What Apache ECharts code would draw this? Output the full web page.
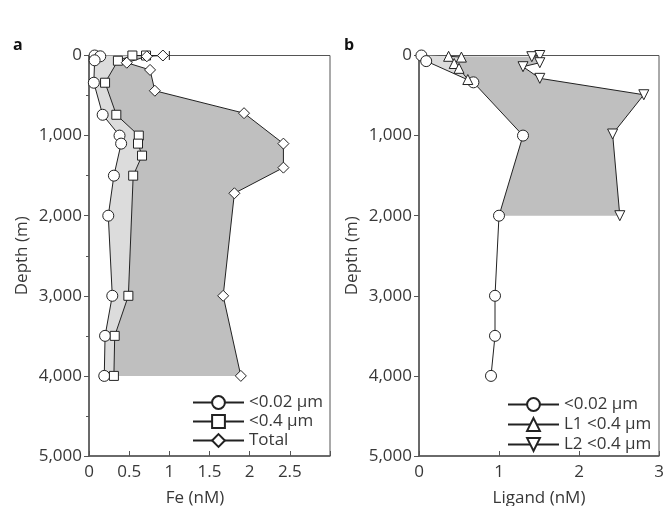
<!DOCTYPE html>
<html>
<head>
<meta charset="utf-8">
<script src="https://cdn.jsdelivr.net/npm/echarts@6/dist/echarts.min.js"></script>
<style>
  html, body { margin: 0; padding: 0; background: #fff; }
  #chart { width: 664px; height: 506px; }
</style>
</head>
<body>
<div id="chart"></div>
<script>
// panel a: Fe (nM) vs depth (m)
const depthSmallA = [0, 10, 60, 340, 740, 1000, 1100, 1500, 2000, 3000, 3500, 4000];
const feSmall = [0.07, 0.14, 0.07, 0.06, 0.17, 0.38, 0.40, 0.31, 0.24, 0.29, 0.20, 0.19];
const depthMidA = [0, 0, 65, 340, 740, 1000, 1100, 1250, 1500, 3000, 3500, 4000];
const feMid = [0.71, 0.54, 0.36, 0.20, 0.34, 0.62, 0.61, 0.66, 0.55, 0.49, 0.32, 0.31];
const depthTotalA = [0, 10, 90, 180, 440, 720, 1100, 1400, 1720, 3000, 4000];
const feTotal = [0.92, 0.72, 0.47, 0.76, 0.82, 1.93, 2.42, 2.42, 1.81, 1.67, 1.89];
// error bar on the surface total value: [low, high, depth]
const feTotalErr = [[0.5, 1.0, 0]];

// panel b: Ligand (nM) vs depth (m)
const depthSmallB = [0, 70, 335, 1000, 2000, 3000, 3500, 4000];
const ligSmall = [0.03, 0.09, 0.68, 1.30, 1.00, 0.95, 0.95, 0.90];
const depthL1 = [10, 20, 100, 160, 300];
const ligL1 = [0.37, 0.53, 0.44, 0.50, 0.61];
const depthL2 = [15, 0, 90, 140, 285, 490, 980, 2000];
const ligL2 = [1.41, 1.51, 1.51, 1.30, 1.51, 2.81, 2.42, 2.51];

const depthTicks = [0, 1000, 2000, 3000, 4000, 5000];
const feTicks = [0, 0.5, 1, 1.5, 2, 2.5];
const ligTicks = [0, 1, 2, 3];

const zip = (xs, ys) => xs.map((x, i) => [x, ys[i]]);

const smallA = zip(feSmall, depthSmallA);
const midA = zip(feMid, depthMidA);
const totalA = zip(feTotal, depthTotalA);
const smallB = zip(ligSmall, depthSmallB);
const l1B = zip(ligL1, depthL1);
const l2B = zip(ligL2, depthL2);

const FONT = "Open Sans";
const FS = 17;
const TXT = "#383838";
const AX = "#555";

const chart = echarts.init(document.getElementById("chart"));

const polygon = (points, color, axisIdx, z) => ({
  type: "custom",
  xAxisIndex: axisIdx,
  yAxisIndex: axisIdx,
  z: z,
  silent: true,
  data: points,
  renderItem: (params, api) => {
    if (params.dataIndex !== 0) return;
    return {
      type: "polygon",
      shape: { points: points.map((p) => api.coord(p)) },
      style: { fill: color, stroke: null },
    };
  },
});

const lineSeries = (name, data, symbol, axisIdx, extra) =>
  Object.assign(
    {
      name: name,
      type: "line",
      xAxisIndex: axisIdx,
      yAxisIndex: axisIdx,
      data: data,
      symbol: symbol,
      symbolSize: 11,
      z: 5,
      lineStyle: { color: "#222", width: 1 },
      itemStyle: { color: "#fff", borderColor: "#222", borderWidth: 1 },
    },
    extra || {}
  );

const yAxisOpt = (gridIndex, minor) => ({
  type: "value",
  gridIndex: gridIndex,
  inverse: true,
  min: 0,
  max: 5000,
  interval: 1000,
  name: "Depth (m)",
  nameLocation: "middle",
  nameGap: 58,
  nameTextStyle: { fontFamily: FONT, fontSize: FS, color: TXT },
  axisLine: { show: true, lineStyle: { color: AX, width: 1.5 } },
  axisTick: { show: true, inside: false, length: 5, lineStyle: { color: AX } },
  minorTick: { show: minor, splitNumber: 2, length: 3, lineStyle: { color: AX } },
  splitLine: { show: false },
  axisLabel: {
    fontFamily: FONT,
    fontSize: FS,
    color: TXT,
    margin: 7,
    formatter: (v) => (depthTicks.includes(v) ? v.toLocaleString("en-US") : ""),
  },
});

const xAxisOpt = (gridIndex, name, interval, ticks, namePad) => ({
  type: "value",
  gridIndex: gridIndex,
  min: 0,
  max: 3,
  interval: interval,
  name: name,
  nameLocation: "middle",
  nameGap: 34,
  nameTextStyle: { fontFamily: FONT, fontSize: FS, color: TXT, padding: namePad },
  axisLine: { show: true, onZero: false, lineStyle: { color: AX, width: 1.5 } },
  axisTick: { show: true, inside: true, length: 5, lineStyle: { color: AX } },
  splitLine: { show: false },
  axisLabel: {
    fontFamily: FONT,
    fontSize: FS,
    color: TXT,
    margin: 8,
    formatter: (v) => (ticks.includes(v) ? String(v) : ""),
  },
});

const legendOpt = (left, top, gap, names) => ({
  orient: "vertical",
  left: left,
  top: top,
  padding: 0,
  itemWidth: 51,
  itemHeight: 16,
  itemGap: gap,
  data: names,
  textStyle: { fontFamily: FONT, fontSize: FS, color: TXT },
});

chart.setOption({
  animation: false,
  backgroundColor: "#fff",
  title: [
    { text: "a", left: 8, top: 32, textStyle: { fontFamily: FONT, fontSize: 16, fontWeight: "bold", color: "#111" } },
    { text: "b", left: 339, top: 32, textStyle: { fontFamily: FONT, fontSize: 16, fontWeight: "bold", color: "#111" } },
  ],
  grid: [
    { left: 89, top: 55.5, width: 241, height: 400.5, outerBoundsMode: "none", show: true, borderColor: AX, borderWidth: 1 },
    { left: 419, top: 55.5, width: 240, height: 400.5, outerBoundsMode: "none", show: true, borderColor: AX, borderWidth: 1 },
  ],
  xAxis: [
    xAxisOpt(0, "Fe (nM)", 0.5, feTicks, [0, 29, 0, 0]),
    xAxisOpt(1, "Ligand (nM)", 1, ligTicks, [0, 0, 0, 0]),
  ],
  yAxis: [yAxisOpt(0, true), yAxisOpt(1, false)],
  legend: [
    legendOpt(192, 394, 2, ["<0.02 μm", "<0.4 μm", "Total"]),
    legendOpt(507, 396, 3, ["<0.02 μm ", "L1 <0.4 μm", "L2 <0.4 μm"]),
  ],
  series: [
    polygon(smallA.concat(midA.slice().reverse()), "#dcdcdc", 0, 1),
    polygon(midA.concat(totalA.slice().reverse()), "#bfbfbf", 0, 2),
    polygon(smallB.slice(0, 3).concat(l1B.slice().reverse()), "#dcdcdc", 1, 1),
    polygon(l1B.concat(smallB.slice(2, 5), l2B.slice().reverse()), "#bfbfbf", 1, 2),
    {
      type: "custom",
      xAxisIndex: 0,
      yAxisIndex: 0,
      z: 4,
      silent: true,
      data: feTotalErr,
      renderItem: (params, api) => {
        const a = api.coord([api.value(0), api.value(2)]);
        const b = api.coord([api.value(1), api.value(2)]);
        const st = { stroke: "#222", lineWidth: 1 };
        return {
          type: "group",
          children: [
            { type: "line", shape: { x1: a[0], y1: a[1], x2: b[0], y2: b[1] }, style: st },
            { type: "line", shape: { x1: a[0], y1: a[1] - 4.5, x2: a[0], y2: a[1] + 4.5 }, style: st },
            { type: "line", shape: { x1: b[0], y1: b[1] - 4.5, x2: b[0], y2: b[1] + 4.5 }, style: st },
          ],
        };
      },
    },
    lineSeries("<0.02 μm", smallA, "circle", 0),
    lineSeries("<0.4 μm", midA, "rect", 0, { symbolSize: 9 }),
    lineSeries("Total", totalA, "diamond", 0, { symbolSize: 11 }),
    lineSeries("<0.02 μm ", smallB, "circle", 1),
    lineSeries("L1 <0.4 μm", l1B, "triangle", 1, { symbolSize: 10 }),
    lineSeries("L2 <0.4 μm", l2B, "triangle", 1, { symbolSize: 10, symbolRotate: 180 }),
  ],
});
</script>
</body>
</html>
